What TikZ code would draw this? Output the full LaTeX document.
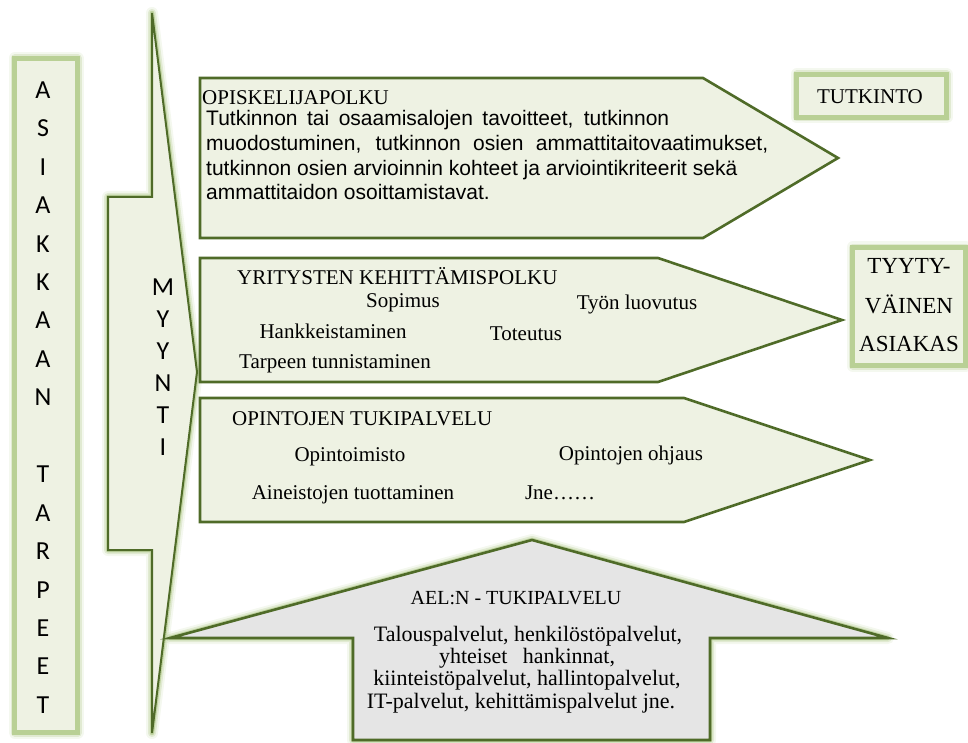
\documentclass[tikz,border=0pt]{standalone}
\usepackage{fontspec}
\setmainfont{Liberation Serif}
\newfontfamily\arialfont{Liberation Sans}
\newfontfamily\calfont{Carlito}
\definecolor{leaf}{HTML}{EEF2E3}
\definecolor{olive}{HTML}{4F6B28}
\definecolor{haze}{HTML}{A6C27A}
\definecolor{rim}{HTML}{B9D095}
\definecolor{ashfill}{HTML}{E5E5E5}
\tikzset{
  glow/.style={
    preaction={draw=haze,line width=12pt,opacity=0.12,line join=round},
    preaction={draw=haze,line width=8pt,opacity=0.25,line join=round},
    preaction={draw=haze,line width=4.5pt,opacity=0.55,line join=round}},
  softbox/.style={glow,fill=leaf,draw=rim,line width=5pt},
  panel/.style={fill=leaf,draw=olive,line width=2.6pt,line join=miter},
  serif/.style={font=\fontsize{21}{24}\selectfont,inner sep=0pt},
  headline/.style={serif,anchor=base west},
  item/.style={serif,anchor=base},
  bodyline/.style={font=\arialfont\fontsize{21}{24}\selectfont,inner sep=0pt,anchor=base west},
  aelline/.style={font=\fontsize{22}{24}\selectfont,inner sep=0pt,anchor=base},
  bigitem/.style={font=\fontsize{23}{26}\selectfont,inner sep=0pt,anchor=base},
  letter/.style={font=\calfont\fontsize{26}{28}\selectfont,inner sep=0pt,anchor=center}
}
\begin{document}
\begin{tikzpicture}[x=1pt,y=-1pt]
\useasboundingbox (0,0) rectangle (968,743);

% customer needs column
\path[softbox] (14.5,58.5) rectangle (77.5,732.5);
\foreach \ch [count=\i from 0] in {A,S,I,A,K,K,A,A,N,{},T,A,R,P,E,E,T}
  \node[letter] (need\i) at (43,{90+38.44*\i}) {\ch};

% sales arrow
\path[glow,fill=leaf,draw=olive,line width=2pt,line join=miter]
  (152,13) -- (197,372) -- (152,733) -- (152,550) -- (108,550)
  -- (108,197) -- (152,197) -- cycle;
\foreach \ch [count=\i from 0] in {M,Y,Y,N,T,I}
  \node[letter] (sale\i) at (163,{287+32*\i}) {\ch};

% student path
\path[panel] (200,78) -- (703,78) -- (838,158) -- (703,238) -- (200,238) -- cycle;
\node[headline] (ophead) at (202,105) {OPISKELIJAPOLKU};
\node[bodyline] (op1) at (206,126) {\makebox[463pt][s]{Tutkinnon tai osaamisalojen tavoitteet, tutkinnon}};
\node[bodyline] (op2) at (206,151) {\makebox[562pt][s]{muodostuminen, tutkinnon osien ammattitaitovaatimukset,}};
\node[bodyline] (op3) at (206,175.5) {tutkinnon osien arvioinnin kohteet ja arviointikriteerit sekä};
\node[bodyline] (op4) at (206,200) {ammattitaidon osoittamistavat.};

% company development path
\path[panel] (200,258) -- (658,258) -- (842,320) -- (658,382) -- (200,382) -- cycle;
\node[headline] (ychead) at (237,284) {YRITYSTEN KEHITTÄMISPOLKU};
\node[item] (sop) at (403,307) {Sopimus};
\node[item] (luov) at (637,309) {Työn luovutus};
\node[item] (hank) at (333,338) {Hankkeistaminen};
\node[item] (tot) at (526,340) {Toteutus};
\node[item] (tarve) at (335,368) {Tarpeen tunnistaminen};

% study support services
\path[panel] (200,398) -- (684,398) -- (870,460) -- (684,522) -- (200,522) -- cycle;
\node[headline] (othead) at (232,425) {OPINTOJEN TUKIPALVELU};
\node[item] (otoim) at (350,461) {Opintoimisto};
\node[item] (ohj) at (631,460) {Opintojen ohjaus};
\node[item] (aine) at (353,499) {Aineistojen tuottaminen};
\node[item] (jne) at (560,499) {Jne……};

% organisation support services
\path[glow,fill=ashfill,draw=olive,line width=2.6pt,line join=miter]
  (170,638) -- (532,540) -- (888,638) -- (710,638) -- (710,740)
  -- (353,740) -- (353,638) -- cycle;
\node[item,font=\fontsize{20}{24}\selectfont] (aelhead) at (516,604) {AEL:N - TUKIPALVELU};
\node[aelline] (ael1) at (528,641) {Talouspalvelut, henkilöstöpalvelut,};
\node[aelline] (ael2) at (527,663) {\makebox[176pt][s]{yhteiset hankinnat,}};
\node[aelline] (ael3) at (527,685) {kiinteistöpalvelut, hallintopalvelut,};
\node[aelline] (ael4) at (521,708) {IT-palvelut, kehittämispalvelut jne.};

% outcomes
\path[softbox] (796.5,74.5) rectangle (946.5,117.5);
\node[serif,anchor=center] (tutk) at (870,97) {TUTKINTO};

\path[softbox] (852.5,247.5) rectangle (965.5,365.5);
\node[bigitem] (ty1) at (909,273) {TYYTY-};
\node[bigitem] (ty2) at (909,313) {VÄINEN};
\node[bigitem] (ty3) at (909,351) {ASIAKAS};
\end{tikzpicture}
\end{document}
